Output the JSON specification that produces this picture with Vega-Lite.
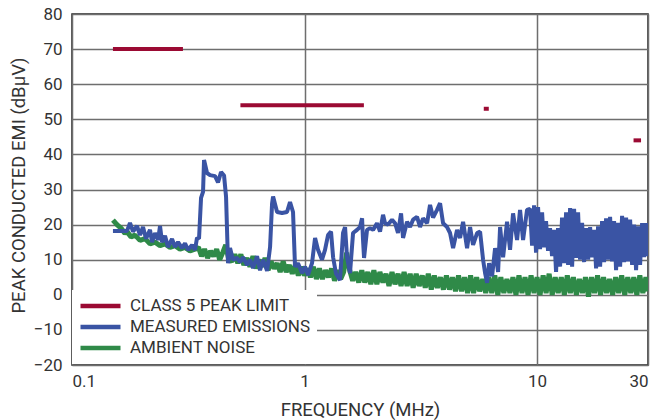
{
  "$schema": "https://vega.github.io/schema/vega-lite/v6.json",
  "width": 576,
  "height": 351,
  "autosize": {"type": "none"},
  "padding": {"left": 72, "top": 14, "right": 8, "bottom": 55},
  "background": "white",
  "config": {
    "view": {"stroke": "#222", "strokeWidth": 1.5},
    "font": "Roboto",
    "axis": {
      "labelFont": "Roboto",
      "titleFont": "Roboto",
      "labelColor": "#333",
      "titleColor": "#333",
      "titleFontWeight": "normal",
      "labelFontSize": 17,
      "titleFontSize": 18.5,
      "labelOverlap": false,
      "ticks": false,
      "domain": false,
      "gridColor": "#6e6e6e",
      "gridWidth": 1.5,
      "gridOpacity": 1
    }
  },
  "datasets": {
    "limit": [
      {"f": 0.15, "f2": 0.30, "v": 70},
      {"f": 0.53, "f2": 1.8, "v": 54},
      {"f": 5.9, "f2": 6.2, "v": 53},
      {"f": 26, "f2": 28, "v": 44}
    ],
    "emi": [
      {"f": 0.150, "v": 18.2}, {"f": 0.1724, "v": 18.2}, {"f": 0.1776, "v": 20.5}, {"f": 0.1830, "v": 18},
      {"f": 0.1903, "v": 19.6}, {"f": 0.1961, "v": 17}, {"f": 0.2020, "v": 19.3}, {"f": 0.2082, "v": 16},
      {"f": 0.2165, "v": 18.5}, {"f": 0.2209, "v": 15}, {"f": 0.2275, "v": 17.6}, {"f": 0.2344, "v": 15.6},
      {"f": 0.2391, "v": 19.6}, {"f": 0.2439, "v": 15}, {"f": 0.2512, "v": 16.8}, {"f": 0.2588, "v": 13.6},
      {"f": 0.2692, "v": 15.9}, {"f": 0.2774, "v": 13.6}, {"f": 0.2858, "v": 15}, {"f": 0.2973, "v": 13.3},
      {"f": 0.3062, "v": 14.7}, {"f": 0.3155, "v": 12.8}, {"f": 0.3282, "v": 14.2}, {"f": 0.3381, "v": 12.8},
      {"f": 0.3448, "v": 16.2}, {"f": 0.3518, "v": 16}, {"f": 0.3589, "v": 27.6}, {"f": 0.3660, "v": 29.3},
      {"f": 0.3697, "v": 38.4}, {"f": 0.3808, "v": 34.7}, {"f": 0.3923, "v": 34.1}, {"f": 0.4123, "v": 33.8},
      {"f": 0.4246, "v": 32}, {"f": 0.4375, "v": 35}, {"f": 0.4507, "v": 34}, {"f": 0.4597, "v": 28},
      {"f": 0.4688, "v": 9}, {"f": 0.4782, "v": 13.3}, {"f": 0.4926, "v": 10}, {"f": 0.5125, "v": 10.5},
      {"f": 0.5280, "v": 9.3}, {"f": 0.5439, "v": 10.7}, {"f": 0.5659, "v": 8.5}, {"f": 0.5831, "v": 10},
      {"f": 0.6006, "v": 7.6}, {"f": 0.6249, "v": 11}, {"f": 0.6438, "v": 7}, {"f": 0.6632, "v": 10},
      {"f": 0.6901, "v": 6.8}, {"f": 0.7109, "v": 13.6}, {"f": 0.7251, "v": 26}, {"f": 0.7324, "v": 28},
      {"f": 0.7619, "v": 23.6}, {"f": 0.8003, "v": 23.3}, {"f": 0.8408, "v": 23.6}, {"f": 0.8662, "v": 26.4},
      {"f": 0.8924, "v": 23.6}, {"f": 0.9102, "v": 8}, {"f": 0.9376, "v": 9}, {"f": 0.9754, "v": 6.2},
      {"f": 1.005, "v": 8}, {"f": 1.035, "v": 5.6}, {"f": 1.077, "v": 9}, {"f": 1.110, "v": 16.2},
      {"f": 1.143, "v": 12.8}, {"f": 1.189, "v": 10}, {"f": 1.225, "v": 12.8}, {"f": 1.262, "v": 17},
      {"f": 1.300, "v": 18}, {"f": 1.327, "v": 10.7}, {"f": 1.366, "v": 6}, {"f": 1.421, "v": 4.2},
      {"f": 1.464, "v": 17.6}, {"f": 1.494, "v": 19.3}, {"f": 1.523, "v": 10.7}, {"f": 1.569, "v": 6.2},
      {"f": 1.617, "v": 17.6}, {"f": 1.682, "v": 18.5}, {"f": 1.733, "v": 19.3}, {"f": 1.768, "v": 21.8},
      {"f": 1.785, "v": 15.6}, {"f": 1.803, "v": 10.5}, {"f": 1.857, "v": 18.5}, {"f": 1.913, "v": 19},
      {"f": 1.971, "v": 18.5}, {"f": 2.050, "v": 20.4}, {"f": 2.112, "v": 18}, {"f": 2.176, "v": 22.8},
      {"f": 2.219, "v": 20.4}, {"f": 2.286, "v": 20}, {"f": 2.379, "v": 21.4}, {"f": 2.451, "v": 20.4},
      {"f": 2.524, "v": 17.6}, {"f": 2.601, "v": 23.2}, {"f": 2.653, "v": 16.2}, {"f": 2.760, "v": 20.8},
      {"f": 2.843, "v": 19.3}, {"f": 2.929, "v": 21.4}, {"f": 3.047, "v": 22.2}, {"f": 3.139, "v": 19.3},
      {"f": 3.234, "v": 21.8}, {"f": 3.365, "v": 20.4}, {"f": 3.466, "v": 25.6}, {"f": 3.571, "v": 22},
      {"f": 3.715, "v": 24.2}, {"f": 3.827, "v": 26.1}, {"f": 3.943, "v": 20.4}, {"f": 4.102, "v": 19.3},
      {"f": 4.226, "v": 17.6}, {"f": 4.354, "v": 13.3}, {"f": 4.529, "v": 18.5}, {"f": 4.666, "v": 16.2},
      {"f": 4.807, "v": 20.8}, {"f": 5.001, "v": 13.3}, {"f": 5.152, "v": 19.3}, {"f": 5.307, "v": 14.2},
      {"f": 5.522, "v": 17.6}, {"f": 5.688, "v": 18}, {"f": 5.860, "v": 10}, {"f": 5.977, "v": 6.2},
      {"f": 6.097, "v": 3.4}, {"f": 6.219, "v": 9}, {"f": 6.406, "v": 5.3}, {"f": 6.600, "v": 13.3},
      {"f": 6.799, "v": 6.5}, {"f": 6.935, "v": 19.3}, {"f": 7.144, "v": 10.7}, {"f": 7.430, "v": 20.8},
      {"f": 7.654, "v": 12.8}, {"f": 7.885, "v": 23.2}, {"f": 8.204, "v": 15.6}, {"f": 8.451, "v": 24.2},
      {"f": 8.707, "v": 15.6}, {"f": 9.058, "v": 24.2},
      {"f": 9.33, "v": 24.5}, {"f": 9.52, "v": 14}, {"f": 9.71, "v": 25.5}, {"f": 9.90, "v": 12},
      {"f": 10.10, "v": 25}, {"f": 10.30, "v": 13}, {"f": 10.51, "v": 23.5}, {"f": 10.72, "v": 13.5},
      {"f": 10.93, "v": 21}, {"f": 11.15, "v": 12.5}, {"f": 11.37, "v": 19}, {"f": 11.60, "v": 11},
      {"f": 11.83, "v": 18.5}, {"f": 12.07, "v": 6.5}, {"f": 12.31, "v": 19}, {"f": 12.56, "v": 8},
      {"f": 12.81, "v": 22}, {"f": 13.07, "v": 9}, {"f": 13.33, "v": 23.5}, {"f": 13.60, "v": 8.5},
      {"f": 13.87, "v": 24.7}, {"f": 14.15, "v": 8}, {"f": 14.43, "v": 24.5}, {"f": 14.72, "v": 10.5},
      {"f": 15.01, "v": 23.5}, {"f": 15.31, "v": 10}, {"f": 15.62, "v": 20.5}, {"f": 15.93, "v": 9.3},
      {"f": 16.25, "v": 19}, {"f": 16.58, "v": 10}, {"f": 16.91, "v": 19.3}, {"f": 17.25, "v": 10.7},
      {"f": 17.59, "v": 18.5}, {"f": 17.94, "v": 7.5}, {"f": 18.30, "v": 19.5}, {"f": 18.67, "v": 8},
      {"f": 19.04, "v": 21}, {"f": 19.42, "v": 9.3}, {"f": 19.81, "v": 21.8}, {"f": 20.21, "v": 10},
      {"f": 20.61, "v": 22.2}, {"f": 21.02, "v": 9.5}, {"f": 21.44, "v": 21}, {"f": 21.87, "v": 7},
      {"f": 22.31, "v": 20.5}, {"f": 22.76, "v": 8}, {"f": 23.21, "v": 22.5}, {"f": 23.68, "v": 9.3},
      {"f": 24.15, "v": 22}, {"f": 24.63, "v": 9.5}, {"f": 25.13, "v": 21.4}, {"f": 25.63, "v": 8.5},
      {"f": 26.14, "v": 20}, {"f": 26.66, "v": 7}, {"f": 27.20, "v": 19.5}, {"f": 27.74, "v": 8.5},
      {"f": 28.30, "v": 20.4}, {"f": 28.86, "v": 10.7}, {"f": 29.44, "v": 20.4}, {"f": 30.0, "v": 11}
    ],
    "noise": [
      {"f": 0.150, "v": 21.3}, {"f": 0.1561, "v": 20}, {"f": 0.1624, "v": 19}, {"f": 0.1690, "v": 17.5},
      {"f": 0.1724, "v": 18}, {"f": 0.1794, "v": 16.5}, {"f": 0.1866, "v": 17}, {"f": 0.1961, "v": 15.5},
      {"f": 0.2061, "v": 16}, {"f": 0.2165, "v": 14.5}, {"f": 0.2275, "v": 15}, {"f": 0.2391, "v": 14},
      {"f": 0.2512, "v": 14.5}, {"f": 0.2640, "v": 13.5}, {"f": 0.2774, "v": 14}, {"f": 0.2914, "v": 13},
      {"f": 0.3062, "v": 13.5}, {"f": 0.3217, "v": 12.5}, {"f": 0.3381, "v": 13},
      {"f": 0.350, "v": 13.5}, {"f": 0.3606, "v": 11}, {"f": 0.3716, "v": 13}, {"f": 0.3829, "v": 10.5},
      {"f": 0.3945, "v": 12.5}, {"f": 0.4065, "v": 11}, {"f": 0.4189, "v": 13}, {"f": 0.4316, "v": 10},
      {"f": 0.4447, "v": 12}, {"f": 0.4583, "v": 14.2}, {"f": 0.4722, "v": 10}, {"f": 0.4866, "v": 9.5},
      {"f": 0.5014, "v": 11.5}, {"f": 0.5166, "v": 9}, {"f": 0.5323, "v": 11.5}, {"f": 0.5485, "v": 8.5},
      {"f": 0.5652, "v": 10.5}, {"f": 0.5824, "v": 8}, {"f": 0.6001, "v": 11}, {"f": 0.6183, "v": 7.5},
      {"f": 0.6371, "v": 10}, {"f": 0.6565, "v": 8}, {"f": 0.6764, "v": 10.5}, {"f": 0.6970, "v": 7},
      {"f": 0.7182, "v": 9.5}, {"f": 0.7400, "v": 7.5}, {"f": 0.7625, "v": 9}, {"f": 0.7857, "v": 6.5},
      {"f": 0.8096, "v": 9.5}, {"f": 0.8342, "v": 6.5}, {"f": 0.8596, "v": 8.5}, {"f": 0.8857, "v": 6},
      {"f": 0.9126, "v": 8.5}, {"f": 0.9404, "v": 5.5}, {"f": 0.9690, "v": 8}, {"f": 0.9984, "v": 5.5},
      {"f": 1.029, "v": 7.5}, {"f": 1.060, "v": 5}, {"f": 1.092, "v": 8}, {"f": 1.125, "v": 4.5},
      {"f": 1.159, "v": 7.5}, {"f": 1.194, "v": 4.5}, {"f": 1.231, "v": 7}, {"f": 1.268, "v": 5},
      {"f": 1.307, "v": 7.5}, {"f": 1.346, "v": 4}, {"f": 1.387, "v": 7}, {"f": 1.430, "v": 4.5},
      {"f": 1.473, "v": 6.5}, {"f": 1.518, "v": 12}, {"f": 1.564, "v": 7}, {"f": 1.611, "v": 4},
      {"f": 1.660, "v": 6.5}, {"f": 1.711, "v": 3.5}, {"f": 1.763, "v": 7}, {"f": 1.816, "v": 3.5},
      {"f": 1.871, "v": 6.5}, {"f": 1.928, "v": 3}, {"f": 1.987, "v": 7}, {"f": 2.047, "v": 3},
      {"f": 2.109, "v": 6.5}, {"f": 2.173, "v": 3.5}, {"f": 2.240, "v": 6}, {"f": 2.308, "v": 2.5},
      {"f": 2.378, "v": 6.5}, {"f": 2.450, "v": 3}, {"f": 2.525, "v": 6}, {"f": 2.601, "v": 2.5},
      {"f": 2.680, "v": 6.5}, {"f": 2.762, "v": 2.5}, {"f": 2.846, "v": 6}, {"f": 2.932, "v": 2},
      {"f": 3.021, "v": 6}, {"f": 3.113, "v": 2.5}, {"f": 3.208, "v": 5.5}, {"f": 3.305, "v": 2},
      {"f": 3.406, "v": 6}, {"f": 3.509, "v": 1.5}, {"f": 3.616, "v": 5.5}, {"f": 3.726, "v": 2},
      {"f": 3.839, "v": 5}, {"f": 3.956, "v": 1.5}, {"f": 4.076, "v": 5.5}, {"f": 4.200, "v": 1.5},
      {"f": 4.327, "v": 5}, {"f": 4.459, "v": 1}, {"f": 4.594, "v": 5.5}, {"f": 4.734, "v": 1},
      {"f": 4.877, "v": 5}, {"f": 5.026, "v": 0.5}, {"f": 5.178, "v": 5.5}, {"f": 5.336, "v": 0.5},
      {"f": 5.498, "v": 5}, {"f": 5.665, "v": 1}, {"f": 5.837, "v": 4.5}, {"f": 6.014, "v": 0.5},
      {"f": 6.197, "v": 5}, {"f": 6.386, "v": 0.5}, {"f": 6.580, "v": 5.5}, {"f": 6.780, "v": 0},
      {"f": 6.985, "v": 5}, {"f": 7.198, "v": 0.5}, {"f": 7.417, "v": 4.5}, {"f": 7.642, "v": 0.5},
      {"f": 7.875, "v": 5}, {"f": 8.114, "v": 0}, {"f": 8.360, "v": 5.5}, {"f": 8.614, "v": 0.5},
      {"f": 8.876, "v": 5}, {"f": 9.146, "v": 0}, {"f": 9.423, "v": 5.5}, {"f": 9.710, "v": 0.5},
      {"f": 10.00, "v": 5}, {"f": 10.30, "v": 0}, {"f": 10.62, "v": 5.5}, {"f": 10.94, "v": 0.5},
      {"f": 11.27, "v": 6}, {"f": 11.62, "v": 0}, {"f": 11.97, "v": 5}, {"f": 12.33, "v": 0.5},
      {"f": 12.71, "v": 5}, {"f": 13.10, "v": 0}, {"f": 13.49, "v": 5.5}, {"f": 13.90, "v": 0.5},
      {"f": 14.33, "v": 5}, {"f": 14.76, "v": 0}, {"f": 15.21, "v": 4.5}, {"f": 15.67, "v": 0.5},
      {"f": 16.15, "v": 5}, {"f": 16.64, "v": -0.5}, {"f": 17.14, "v": 5}, {"f": 17.66, "v": 0.5},
      {"f": 18.20, "v": 5.5}, {"f": 18.75, "v": 0}, {"f": 19.32, "v": 5}, {"f": 19.91, "v": 0.5},
      {"f": 20.51, "v": 4.5}, {"f": 21.14, "v": 0}, {"f": 21.78, "v": 5}, {"f": 22.44, "v": 0.5},
      {"f": 23.12, "v": 5.5}, {"f": 23.83, "v": 0}, {"f": 24.55, "v": 5}, {"f": 25.30, "v": 0.5},
      {"f": 26.06, "v": 5}, {"f": 26.86, "v": 0}, {"f": 27.67, "v": 5.5}, {"f": 28.51, "v": 0.5},
      {"f": 29.38, "v": 5}, {"f": 30.0, "v": 1}
    ]
  },
  "encoding": {
    "x": {
      "field": "f", "type": "quantitative",
      "scale": {"type": "log", "domain": [0.1, 30], "nice": false},
      "axis": {
        "values": [0.1, 1, 10, 30], "format": "~g", "title": "FREQUENCY (MHz)",
        "labelPadding": 8, "titleY": 44, "titleBaseline": "middle", "grid": true,
        "labelOverlap": false
      }
    },
    "y": {
      "field": "v", "type": "quantitative",
      "scale": {"domain": [-20, 80], "nice": false, "zero": false},
      "axis": {
        "values": [-20, -10, 0, 10, 20, 30, 40, 50, 60, 70, 80],
        "title": "PEAK CONDUCTED EMI (dBμV)", "labelPadding": 10,
        "labelOverlap": false, "labelFlush": false,
        "titleX": -54, "titleY": 171, "titleAngle": -90, "titleAlign": "center", "titleBaseline": "middle",
        "grid": true
      }
    },
    "color": {
      "type": "nominal",
      "scale": {
        "domain": ["CLASS 5 PEAK LIMIT", "MEASURED EMISSIONS", "AMBIENT NOISE"],
        "range": ["#9b0a33", "#3a54a4", "#2f8a48"]
      },
      "legend": {
        "orient": "none", "legendX": 0, "legendY": 276, "title": null,
        "symbolType": "stroke", "symbolSize": 1600, "symbolStrokeWidth": 4.5,
        "labelFont": "Roboto", "labelFontSize": 17, "labelColor": "#333",
        "labelOffset": 7, "labelLimit": 400, "clipHeight": 20, "rowPadding": 1,
        "padding": 6, "fillColor": "white", "strokeColor": null
      }
    }
  },
  "layer": [
    {
      "data": {"name": "noise"},
      "mark": {"type": "line", "strokeWidth": 5, "strokeJoin": "bevel", "clip": true},
      "encoding": {
        "color": {"datum": "AMBIENT NOISE"}
      }
    },
    {
      "data": {"name": "emi"},
      "mark": {"type": "line", "strokeWidth": 4, "strokeJoin": "bevel", "clip": true},
      "encoding": {
        "color": {"datum": "MEASURED EMISSIONS"}
      }
    },
    {
      "data": {"name": "limit"},
      "mark": {"type": "rule", "strokeWidth": 4, "strokeCap": "butt"},
      "encoding": {
        "x2": {"field": "f2"},
        "color": {"datum": "CLASS 5 PEAK LIMIT"}
      }
    }
  ]
}
